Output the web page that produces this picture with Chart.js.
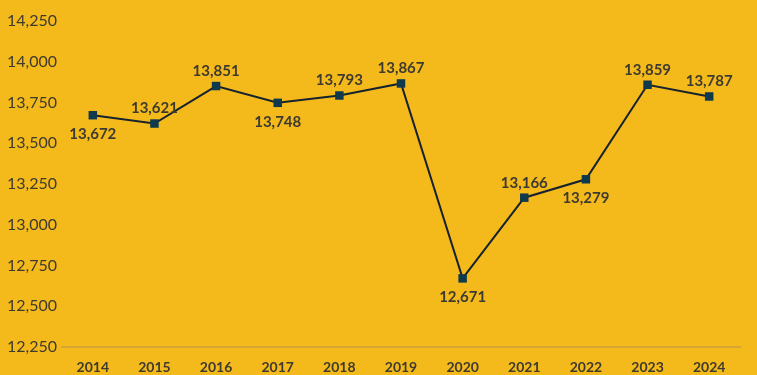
<!DOCTYPE html>
<html lang="en">
<head>
    <meta charset="UTF-8">
    <title>Yearly values 2014-2024</title>
    <script src="https://cdn.jsdelivr.net/npm/chart.js"></script>
    <style>
        body {
            margin: 0;
            padding: 0;
            background-color: #F4B91A;
        }
        .chart-box {
            width: 757px;
            height: 375px;
            position: relative;
        }
    </style>
</head>
<body>
    <div class="chart-box">
        <canvas id="lineChart"></canvas>
    </div>

    <script>
        // Datos
        const years = ['2014', '2015', '2016', '2017', '2018', '2019', '2020', '2021', '2022', '2023', '2024'];
        const values = [13672, 13621, 13851, 13748, 13793, 13867, 12671, 13166, 13279, 13859, 13787];
        const yTicks = [12250, 12500, 12750, 13000, 13250, 13500, 13750, 14000, 14250];

        // Donde va cada etiqueta: arriba o abajo del punto
        const labelPlacement = ['below', 'above', 'above', 'below', 'above', 'above', 'below', 'above', 'below', 'above', 'above'];

        const textColor = '#3d3a30';
        const fontName = 'Lato, "Open Sans", sans-serif';

        const valueLabels = {
            id: 'valueLabels',
            afterDatasetsDraw(chart) {
                const ctx = chart.ctx;
                const meta = chart.getDatasetMeta(0);
                ctx.save();
                ctx.font = 'bold 15px ' + fontName;
                ctx.fillStyle = textColor;
                ctx.textAlign = 'center';
                ctx.textBaseline = 'middle';
                meta.data.forEach((pt, i) => {
                    const dy = labelPlacement[i] === 'above' ? -15 : 19;
                    ctx.fillText(values[i].toLocaleString('en-US'), pt.x, pt.y + dy);
                });
                ctx.restore();
            }
        };

        const ctx = document.getElementById('lineChart').getContext('2d');
        const lineChart = new Chart(ctx, {
            type: 'line',
            data: {
                labels: years,
                datasets: [{
                    data: values,
                    borderColor: '#16222f',
                    borderWidth: 2,
                    pointStyle: 'rect',
                    pointRadius: 6,
                    pointBackgroundColor: '#0f3a4c',
                    pointBorderColor: '#0f3a4c',
                    pointBorderWidth: 0,
                    tension: 0
                }]
            },
            options: {
                responsive: true,
                maintainAspectRatio: false,
                animation: false,
                layout: {
                    padding: { top: 21, right: 17, left: 7, bottom: 0 }
                },
                plugins: {
                    legend: { display: false },
                    tooltip: { enabled: false }
                },
                scales: {
                    x: {
                        offset: true,
                        grid: { display: false },
                        border: { display: true, color: '#d6a534', width: 2 },
                        ticks: {
                            color: textColor,
                            font: { family: fontName, size: 14, weight: 'bold' },
                            padding: 4
                        },
                        afterFit(scale) { scale.height = 28; }
                    },
                    y: {
                        min: 12250,
                        max: 14250,
                        afterBuildTicks(scale) {
                            scale.ticks = yTicks.map(v => ({ value: v }));
                        },
                        grid: { display: false },
                        border: { display: false },
                        ticks: {
                            color: textColor,
                            font: { family: fontName, size: 16 },
                            crossAlign: 'far',
                            callback: v => v.toLocaleString('en-US')
                        },
                        afterFit(scale) { scale.width = 55; }
                    }
                }
            },
            plugins: [valueLabels]
        });
    </script>
</body>
</html>
